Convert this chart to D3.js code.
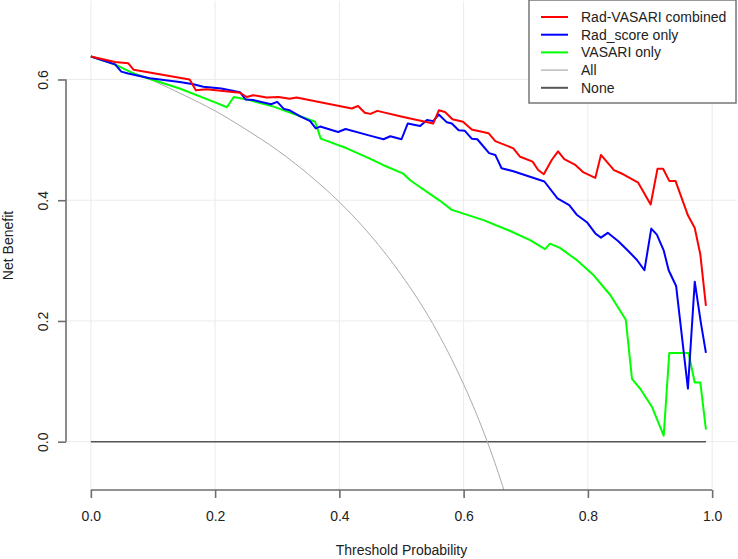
<!DOCTYPE html>
<html>
<head>
<meta charset="utf-8">
<script src="https://cdn.jsdelivr.net/npm/d3@7"></script>
<style>
  body { margin: 0; background: #fff; }
  text { font-family: "Liberation Sans", Arial, sans-serif; }
</style>
</head>
<body>
<div id="chart"></div>
<script>
// decision curves, values as [threshold, net benefit]
var radVasariCombined = [
  [0,0.638],[0.039,0.629],[0.06,0.627],[0.069,0.616],[0.159,0.600],[0.169,0.582],[0.186,0.584],
  [0.24,0.578],[0.251,0.571],[0.261,0.574],[0.283,0.570],[0.302,0.571],[0.32,0.568],[0.331,0.570],
  [0.42,0.552],[0.43,0.556],[0.441,0.545],[0.45,0.543],[0.461,0.548],[0.503,0.538],[0.551,0.527],
  [0.56,0.549],[0.57,0.546],[0.582,0.534],[0.599,0.530],[0.613,0.517],[0.64,0.511],[0.651,0.498],
  [0.68,0.486],[0.691,0.472],[0.711,0.464],[0.72,0.450],[0.729,0.443],[0.742,0.467],[0.752,0.481],
  [0.762,0.468],[0.779,0.459],[0.793,0.446],[0.812,0.437],[0.821,0.475],[0.842,0.450],[0.857,0.443],
  [0.881,0.429],[0.901,0.393],[0.912,0.452],[0.921,0.452],[0.931,0.432],[0.941,0.432],[0.961,0.375],
  [0.972,0.354],[0.981,0.310],[0.99,0.225]
]
var radScoreOnly = [
  [0,0.638],[0.039,0.625],[0.049,0.613],[0.06,0.610],[0.095,0.602],[0.143,0.596],[0.165,0.592],
  [0.181,0.588],[0.21,0.585],[0.24,0.579],[0.249,0.567],[0.261,0.566],[0.29,0.559],[0.30,0.563],
  [0.311,0.551],[0.32,0.549],[0.337,0.539],[0.353,0.531],[0.362,0.519],[0.369,0.522],[0.398,0.513],
  [0.41,0.518],[0.449,0.507],[0.471,0.501],[0.482,0.506],[0.50,0.501],[0.51,0.527],[0.53,0.523],
  [0.541,0.533],[0.551,0.531],[0.56,0.542],[0.573,0.529],[0.581,0.527],[0.592,0.516],[0.602,0.515],
  [0.613,0.502],[0.622,0.501],[0.641,0.478],[0.651,0.475],[0.661,0.453],[0.68,0.448],[0.73,0.431],
  [0.751,0.403],[0.77,0.392],[0.782,0.376],[0.799,0.363],[0.812,0.345],[0.821,0.338],[0.832,0.346],
  [0.849,0.332],[0.865,0.316],[0.879,0.301],[0.891,0.284],[0.902,0.353],[0.911,0.343],[0.922,0.317],
  [0.93,0.284],[0.942,0.258],[0.961,0.088],[0.972,0.265],[0.982,0.196],[0.99,0.147]
]
var vasariOnly = [
  [0,0.638],[0.039,0.625],[0.068,0.610],[0.143,0.585],[0.20,0.562],[0.219,0.554],[0.23,0.571],
  [0.251,0.567],[0.294,0.555],[0.337,0.539],[0.361,0.530],[0.37,0.502],[0.412,0.486],[0.449,0.469],
  [0.471,0.458],[0.503,0.444],[0.514,0.433],[0.562,0.399],[0.581,0.384],[0.632,0.367],[0.675,0.349],
  [0.707,0.334],[0.731,0.319],[0.739,0.328],[0.755,0.321],[0.782,0.301],[0.809,0.276],[0.836,0.243],
  [0.861,0.202],[0.871,0.104],[0.884,0.088],[0.903,0.058],[0.922,0.010],[0.931,0.147],[0.962,0.147],
  [0.972,0.098],[0.981,0.098],[0.99,0.020]
]
var treatAll = [
  [0,0.638],[0.05,0.619],[0.10,0.598],[0.15,0.574],[0.20,0.548],[0.25,0.517],[0.30,0.483],
  [0.35,0.443],[0.40,0.397],[0.45,0.342],[0.50,0.276],[0.55,0.196],[0.60,0.095],[0.625,0.035],
  [0.65,-0.034],[0.675,-0.114],[0.70,-0.207]
]
var treatNone = [[0,0],[0.99,0]]

var seriesNames = ['Rad-VASARI combined', 'Rad_score only', 'VASARI only', 'All', 'None']
var seriesColors = ['#ff0000', '#0000ff', '#00ff00', '#aaaaaa', '#555555']
var seriesWidths = [2, 2, 2, 1, 1.6]
var xTicks = [0, 0.2, 0.4, 0.6, 0.8, 1.0]
var yTicks = [0, 0.2, 0.4, 0.6]

;(function() {
  var W = 738, H = 559
  var pLeft = 66, pRight = 737, pTop = 1, pBottom = 490

  var svg = d3.select('#chart').append('svg').attr('width', W).attr('height', H)

  var x = d3.scaleLinear().domain([-0.04, 1.04]).range([pLeft, pRight])
  var y = d3.scaleLinear().domain([-0.08, 0.73]).range([pBottom, pTop])

  // grid
  svg.append('g').selectAll('line').data(xTicks).enter().append('line')
    .attr('x1', function(d) { return x(d) }).attr('x2', function(d) { return x(d) })
    .attr('y1', pTop).attr('y2', pBottom)
    .attr('stroke', '#ebebeb').attr('stroke-width', 1)
  svg.append('g').selectAll('line').data(yTicks).enter().append('line')
    .attr('x1', pLeft).attr('x2', pRight)
    .attr('y1', function(d) { return y(d) }).attr('y2', function(d) { return y(d) })
    .attr('stroke', '#ebebeb').attr('stroke-width', 1)

  svg.append('clipPath').attr('id', 'plot')
    .append('rect').attr('x', pLeft).attr('y', pTop).attr('width', pRight - pLeft).attr('height', pBottom - pTop)

  var line = d3.line().x(function(d) { return x(d[0]) }).y(function(d) { return y(d[1]) })
  var smooth = d3.line().x(function(d) { return x(d[0]) }).y(function(d) { return y(d[1]) }).curve(d3.curveMonotoneX)

  var lines = svg.append('g').attr('clip-path', 'url(#plot)')
  var allData = [radVasariCombined, radScoreOnly, vasariOnly, treatAll, treatNone]
  // None and All first, models on top
  ;[4, 3, 2, 1, 0].forEach(function(i) {
    lines.append('path')
      .attr('d', i === 3 ? smooth(allData[i]) : line(allData[i]))
      .attr('fill', 'none')
      .attr('stroke', seriesColors[i])
      .attr('stroke-width', seriesWidths[i])
      .attr('stroke-linejoin', 'round')
  })

  // axes, R style: line only spans the ticks
  var axisCol = '#6e6e6e'
  var xAxis = svg.append('g').attr('transform', 'translate(0,' + pBottom + ')')
    .call(d3.axisBottom(x).tickValues(xTicks).tickFormat(d3.format('.1f')).tickSize(8).tickPadding(13))
  xAxis.select('.domain').remove()
  xAxis.append('line').attr('x1', x(0)).attr('x2', x(1)).attr('stroke', axisCol).attr('stroke-width', 1.6)
  xAxis.selectAll('.tick line').attr('stroke', axisCol).attr('stroke-width', 1.6)
  xAxis.selectAll('text').attr('fill', '#222').style('font-size', '14px')

  var yAxis = svg.append('g').attr('transform', 'translate(' + pLeft + ',0)')
    .call(d3.axisLeft(y).tickValues(yTicks).tickFormat(d3.format('.1f')).tickSize(8))
  yAxis.select('.domain').remove()
  yAxis.append('line').attr('y1', y(0)).attr('y2', y(0.6)).attr('stroke', axisCol).attr('stroke-width', 1.6)
  yAxis.selectAll('.tick line').attr('stroke', axisCol).attr('stroke-width', 1.6)
  yAxis.selectAll('text')
    .attr('transform', 'rotate(-90)')
    .attr('x', 0).attr('y', -18).attr('dy', 0)
    .attr('text-anchor', 'middle')
    .attr('fill', '#222').style('font-size', '14px')

  svg.append('text').text('Threshold Probability')
    .attr('x', (pLeft + pRight) / 2).attr('y', 555)
    .attr('text-anchor', 'middle').attr('fill', '#222').style('font-size', '14px')
  svg.append('text').text('Net Benefit')
    .attr('transform', 'translate(13,' + (pTop + pBottom) / 2 + ') rotate(-90)')
    .attr('text-anchor', 'middle').attr('fill', '#222').style('font-size', '14px')

  // legend
  var leg = svg.append('g')
  leg.append('rect').attr('x', 529).attr('y', 0).attr('width', 207).attr('height', 103)
    .attr('fill', '#fff').attr('stroke', '#777').attr('stroke-width', 1.5)
  seriesNames.forEach(function(name, i) {
    var ly = 17 + i * 17.7
    leg.append('line').attr('x1', 541).attr('x2', 568).attr('y1', ly).attr('y2', ly)
      .attr('stroke', seriesColors[i]).attr('stroke-width', i === 3 ? 1.2 : 2)
    leg.append('text').text(name).attr('x', 581).attr('y', ly).attr('dy', '0.35em')
      .attr('fill', '#222').style('font-size', '14px')
  })
})()
</script>
</body>
</html>
